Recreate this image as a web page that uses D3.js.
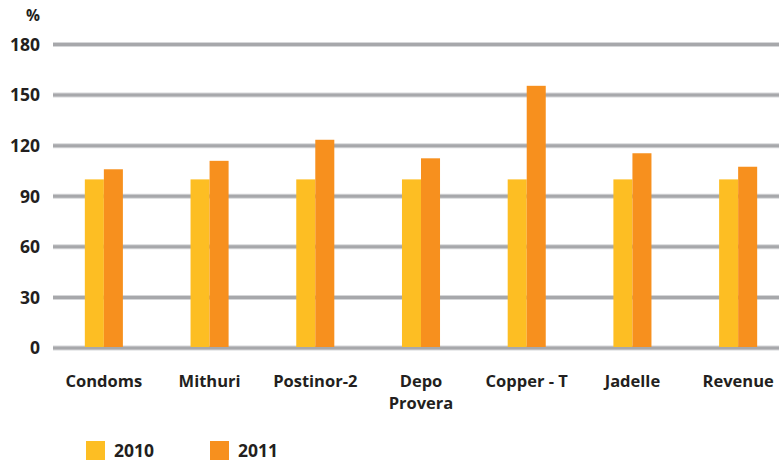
<!DOCTYPE html>
<html>
<head>
<meta charset="utf-8">
<script src="https://cdn.jsdelivr.net/npm/d3@7"></script>
<style>
  body { margin: 0; background: #fff; }
  text { font-family: "Open Sans", sans-serif; font-weight: bold; fill: #231f20; }
</style>
</head>
<body>
<div class="vis"></div>
<script>
const categories = ["Condoms", "Mithuri", "Postinor-2", "Depo Provera", "Copper - T", "Jadelle", "Revenue"];
const years = ["2010", "2011"];
const values2010 = [100, 100, 100, 100, 100, 100, 100];
const values2011 = [106, 111, 123.5, 112.5, 155.5, 115.5, 107.5];
const yTicks = [0, 30, 60, 90, 120, 150, 180];

const colors = { "2010": "#fdbe23", "2011": "#f7901e" };

const width = 779, height = 461;

const svg = d3.select(".vis").append("svg")
  .attr("width", width)
  .attr("height", height);

const x = d3.scaleBand()
  .domain(categories)
  .range([51, 791])
  .paddingInner(0.64)
  .paddingOuter(0.32);

const x1 = d3.scaleBand()
  .domain(years)
  .range([0, x.bandwidth()]);

const y = d3.scaleLinear()
  .domain([0, 180])
  .range([348, 44.5]);

// gridlines
const grid = svg.append("g");
grid.selectAll(".halo")
  .data(yTicks)
  .enter()
  .append("line")
  .attr("x1", 53).attr("x2", width)
  .attr("y1", (d) => y(d)).attr("y2", (d) => y(d))
  .attr("stroke", "#d6d7d9")
  .attr("stroke-width", 5);
grid.selectAll(".line")
  .data(yTicks)
  .enter()
  .append("line")
  .attr("x1", 53).attr("x2", width)
  .attr("y1", (d) => y(d)).attr("y2", (d) => y(d))
  .attr("stroke", "#a7a8ab")
  .attr("stroke-width", 3);

// y labels
svg.append("g")
  .selectAll("text")
  .data(yTicks)
  .enter()
  .append("text")
  .attr("x", 40)
  .attr("y", (d) => y(d))
  .attr("dy", "0.36em")
  .attr("text-anchor", "end")
  .attr("font-size", 17.5)
  .text((d) => d);

svg.append("text")
  .attr("x", 40)
  .attr("y", 21)
  .attr("text-anchor", "end")
  .attr("font-size", 15.5)
  .text("%");

// bars
const rows = categories.map((c, i) => ({
  name: c,
  values: [
    { yr: "2010", value: values2010[i] },
    { yr: "2011", value: values2011[i] },
  ],
}));

const groups = svg.append("g")
  .selectAll("g")
  .data(rows)
  .enter()
  .append("g")
  .attr("transform", (d) => "translate(" + x(d.name) + ",0)");

groups.selectAll("rect")
  .data((d) => d.values)
  .enter()
  .append("rect")
  .attr("x", (d) => x1(d.yr))
  .attr("width", x1.bandwidth())
  .attr("y", (d) => y(d.value))
  .attr("height", (d) => y(0) - 1 - y(d.value))
  .attr("fill", (d) => colors[d.yr]);

// category labels (Depo Provera wraps onto two lines)
const labels = svg.append("g")
  .selectAll("text")
  .data(categories)
  .enter()
  .append("text")
  .attr("x", (d) => x(d) + x.bandwidth() / 2)
  .attr("y", 386.5)
  .attr("text-anchor", "middle")
  .attr("font-size", 16.5);

labels.each(function (d) {
  const parts = d === "Depo Provera" ? ["Depo", "Provera"] : [d];
  const t = d3.select(this);
  parts.forEach((p, i) => {
    t.append("tspan")
      .attr("x", x(d) + x.bandwidth() / 2)
      .attr("dy", i === 0 ? 0 : 22.6)
      .text(p);
  });
});

// legend
const legend = svg.append("g")
  .selectAll("g")
  .data(years)
  .enter()
  .append("g")
  .attr("transform", (d, i) => "translate(" + (86 + i * 124) + ",441)");

legend.append("rect")
  .attr("width", 19)
  .attr("height", 19)
  .attr("fill", (d) => colors[d]);

legend.append("text")
  .attr("x", 28)
  .attr("y", 10)
  .attr("dy", "0.36em")
  .attr("font-size", 17.5)
  .text((d) => d);
</script>
</body>
</html>
